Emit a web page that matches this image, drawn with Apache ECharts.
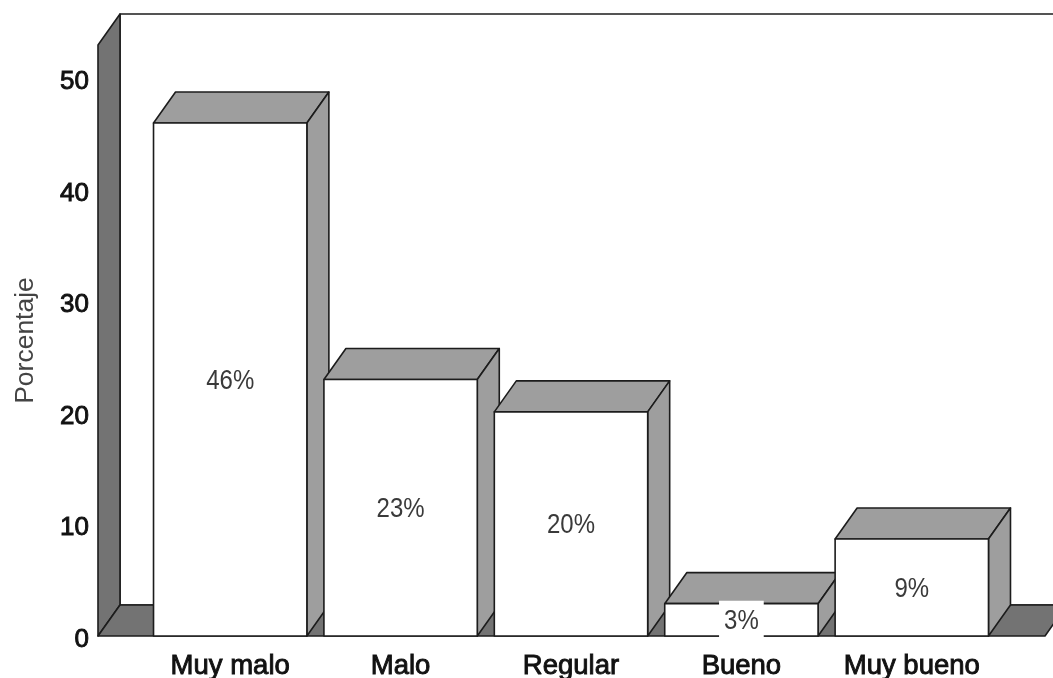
<!DOCTYPE html>
<html>
<head>
<meta charset="utf-8">
<style>html,body{margin:0;padding:0;background:#fff}#c{width:1053px;height:678px}</style>
<script src="https://cdn.jsdelivr.net/npm/echarts@6/dist/echarts.min.js"></script>
</head>
<body>
<div id="c"></div>
<script>
const categories = ['Muy malo', 'Malo', 'Regular', 'Bueno', 'Muy bueno'];
const porcentaje = [46, 23, 20.1, 2.9, 8.7];
const etiquetas = ['46%', '23%', '20%', '3%', '9%'];
const axisTitle = 'Porcentaje';
const yMax = 53;

const DX = 22, DY = -31;
const LINE = '#1c1c1c', WALL = '#737373', SIDE = '#9e9e9e';
const FONT = '"Liberation Sans", Arial, sans-serif';

function poly(points, fill) {
  return { type: 'polygon', shape: { points }, style: { fill, stroke: LINE, lineWidth: 1.6, lineJoin: 'round' } };
}

function renderWalls(params, api) {
  const cs = params.coordSys;
  const base = api.coord([0, 0])[1];
  const top = api.coord([0, yMax])[1];
  const l = cs.x - 47, r = cs.x + cs.width + 48;
  return {
    type: 'group',
    children: [
      poly([[l + DX, base + DY], [r + DX, base + DY], [r + DX, top + DY], [l + DX, top + DY]], '#ffffff'),
      poly([[l, base], [l + DX, base + DY], [l + DX, top + DY], [l, top]], WALL),
      poly([[l, base], [r, base], [r + DX, base + DY], [l + DX, base + DY]], WALL)
    ]
  };
}

function renderBar(params, api) {
  const c = api.value(0), v = api.value(1);
  const [cx, y1] = api.coord([c, v]);
  const y0 = api.coord([c, 0])[1];
  const w = api.size([1, 0])[0] * 0.9;
  const x0 = cx - w / 2, x1 = cx + w / 2;
  return {
    type: 'group',
    children: [
      poly([[x0, y1], [x1, y1], [x1 + DX, y1 + DY], [x0 + DX, y1 + DY]], SIDE),
      poly([[x1, y0], [x1 + DX, y0 + DY], [x1 + DX, y1 + DY], [x1, y1]], SIDE),
      poly([[x0, y0], [x1, y0], [x1, y1], [x0, y1]], '#ffffff'),
      {
        type: 'text',
        x: cx,
        y: (y0 + y1) / 2 + 1.5,
        scaleY: 1.15,
        z2: 10,
        style: {
          text: etiquetas[params.dataIndex],
          font: '24px ' + FONT,
          fill: '#3a3a3a',
          align: 'center',
          verticalAlign: 'middle',
          backgroundColor: '#ffffff',
          padding: [6, 5]
        }
      }
    ]
  };
}

const chart = echarts.init(document.getElementById('c'), null, { renderer: 'canvas' });
chart.setOption({
  animation: false,
  backgroundColor: '#ffffff',
  grid: { left: 145, right: 56, top: 45, bottom: 42, outerBoundsMode: 'none' },
  xAxis: {
    type: 'category',
    data: categories,
    axisLine: { show: false },
    axisTick: { show: false },
    axisLabel: {
      interval: 0,
      margin: 16,
      fontFamily: FONT,
      fontSize: 27.5,
      color: '#111',
      textBorderColor: '#111',
      textBorderWidth: 0.9
    }
  },
  yAxis: {
    type: 'value',
    position: 'left',
    offset: 47,
    min: 0,
    max: yMax,
    interval: 10,
    name: axisTitle,
    nameLocation: 'middle',
    nameGap: 59,
    nameTextStyle: { fontFamily: FONT, fontSize: 26.5, color: '#444' },
    axisLine: { show: false },
    axisTick: { show: false },
    splitLine: { show: false },
    axisLabel: {
      showMaxLabel: false,
      margin: 9,
      formatter: '{v|{value}}',
      rich: {
        v: {
          padding: [7, 0, 0, 0],
          fontFamily: FONT,
          fontSize: 26,
          color: '#111',
          textBorderColor: '#111',
          textBorderWidth: 0.9
        }
      }
    }
  },
  series: [
    { type: 'custom', silent: true, clip: false, z: 1, renderItem: renderWalls, data: [[0, 0]], encode: { x: 0, y: 1 } },
    { type: 'custom', silent: true, clip: false, z: 2, renderItem: renderBar, data: porcentaje.map((v, i) => [i, v]), encode: { x: 0, y: 1 } }
  ]
});
</script>
</body>
</html>
